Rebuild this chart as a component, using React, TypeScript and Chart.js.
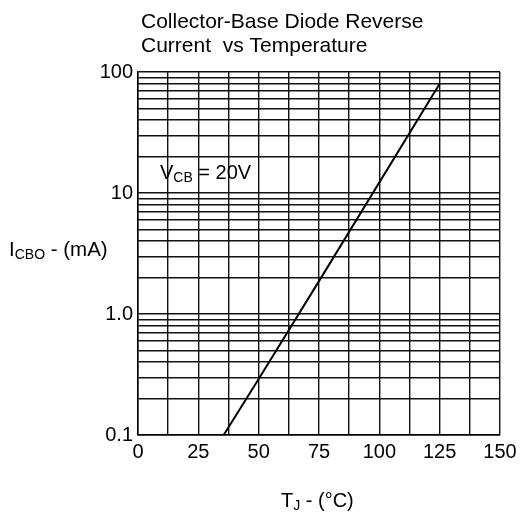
import React, { useEffect, useRef } from 'react';
import { Chart, registerables } from 'chart.js';

Chart.register(...registerables);

// Data
const temperatureC = [35.5, 50, 75, 125];
const currentMA = [0.1, 0.29, 1.87, 80];

// Axis ticks / grid
const xTickValues = [0, 12.5, 25, 37.5, 50, 62.5, 75, 87.5, 100, 112.5, 125, 137.5, 150];
const xLabelValues = [0, 25, 50, 75, 100, 125, 150];
const yGridValues = [
  0.1, 0.2, 0.3, 0.4, 0.5, 0.6, 0.7, 0.8, 0.9,
  1, 2, 3, 4, 5, 6, 7, 8, 9,
  10, 20, 30, 40, 50, 60, 70, 80, 90,
  100,
];
const yLabelValues = [0.1, 1, 10, 100];
const yLabelTexts = ['0.1', '1.0', '10', '100'];

const titleLines = ['Collector-Base Diode Reverse', 'Current  vs Temperature'];

const FONT = '"Liberation Sans", Arial, Helvetica, sans-serif';

function drawSubText(
  ctx: CanvasRenderingContext2D,
  x: number,
  y: number,
  size: number,
  parts: { t: string; sub?: boolean }[]
) {
  let cx = x;
  for (const p of parts) {
    ctx.font = (p.sub ? 14 : size) + 'px ' + FONT;
    ctx.fillText(p.t, cx, p.sub ? y + 3 : y);
    cx += ctx.measureText(p.t).width;
  }
}

const textPlugin = {
  id: 'textOverlay',
  afterDraw(chart: any) {
    const ctx: CanvasRenderingContext2D = chart.ctx;
    ctx.save();
    ctx.fillStyle = '#000';
    ctx.textAlign = 'left';
    ctx.textBaseline = 'alphabetic';
    ctx.font = '21px ' + FONT;
    ctx.fillText(titleLines[0], 141, 28);
    ctx.fillText(titleLines[1], 141, 52);
    drawSubText(ctx, 9, 256, 20.5, [{ t: 'I' }, { t: 'CBO', sub: true }, { t: ' - (mA)' }]);
    drawSubText(ctx, 160, 179, 20, [{ t: 'V' }, { t: 'CB', sub: true }, { t: ' = 20V' }]);
    drawSubText(ctx, 281, 507, 20, [{ t: 'T' }, { t: 'J', sub: true }, { t: ' - (°C)' }]);
    ctx.restore();
  },
};

export default function App() {
  const ref = useRef<HTMLCanvasElement | null>(null);

  useEffect(() => {
    if (!ref.current) return;
    const chart = new Chart(ref.current, {
      type: 'line',
      data: {
        datasets: [
          {
            data: temperatureC.map((x, i) => ({ x, y: currentMA[i] })),
            borderColor: '#000',
            borderWidth: 2,
            pointRadius: 0,
            tension: 0,
            fill: false,
          },
        ],
      },
      options: {
        responsive: false,
        animation: false,
        devicePixelRatio: 1,
        layout: { padding: { left: 0, right: 27, top: 72, bottom: 0 } },
        plugins: {
          legend: { display: false },
          title: { display: false },
          tooltip: { enabled: false },
        },
        scales: {
          x: {
            type: 'linear',
            min: 0,
            max: 150,
            afterBuildTicks: (s: any) => {
              s.ticks = xTickValues.map((v) => ({ value: v }));
            },
            afterFit: (s: any) => {
              s.height = 77;
            },
            ticks: {
              autoSkip: false,
              maxRotation: 0,
              padding: 5,
              color: '#000',
              font: { family: FONT, size: 20 },
              callback: (v: any) => (xLabelValues.includes(Number(v)) ? String(v) : ''),
            },
            grid: { color: '#111', lineWidth: 1.4, drawTicks: false },
            border: { color: '#000', width: 1.5 },
          },
          y: {
            type: 'logarithmic',
            min: 0.1,
            max: 100,
            afterBuildTicks: (s: any) => {
              s.ticks = yGridValues.map((v) => ({ value: v, major: yLabelValues.includes(v) }));
            },
            afterFit: (s: any) => {
              s.width = 138;
            },
            ticks: {
              autoSkip: false,
              padding: 5,
              color: '#000',
              font: { family: FONT, size: 20 },
              callback: (v: any) => {
                const idx = yLabelValues.findIndex((lv) => Math.abs(lv - Number(v)) < 1e-9);
                return idx >= 0 ? yLabelTexts[idx] : '';
              },
            },
            grid: { color: '#111', lineWidth: 1.4, drawTicks: false },
            border: { color: '#000', width: 1.5 },
          },
        },
      } as any,
      plugins: [textPlugin],
    });
    return () => chart.destroy();
  }, []);

  return (
    <div style={{ position: 'fixed', left: 0, top: 0, width: 527, height: 512, background: '#fff' }}>
      <canvas ref={ref} width={527} height={512} style={{ display: 'block' }} />
    </div>
  );
}
